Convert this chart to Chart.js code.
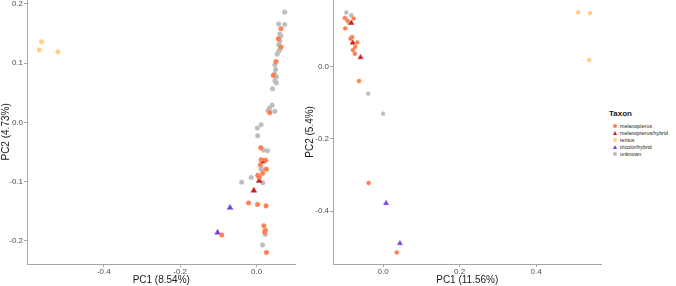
<!DOCTYPE html>
<html>
<head>
<meta charset="utf-8">
<script src="https://cdn.jsdelivr.net/npm/chart.js@4.4.0/dist/chart.umd.min.js"></script>
<style>
    body { margin: 0; background: #fff; width: 676px; height: 286px; overflow: hidden; position: relative; font-family: 'Liberation Sans', Arial, sans-serif; }
    #left { position: absolute; left: 0; top: 0; }
    #right { position: absolute; left: 300px; top: 0; }
    .legend { position: absolute; left: 609px; top: 108px; color: #1a1a1a; }
    .legend-title { font-weight: bold; font-size: 8px; line-height: 11px; margin-bottom: 4px; }
    .legend-row { display: flex; align-items: center; height: 6.9px; font-size: 5.3px; }
    .legend-mark { width: 11px; display: flex; justify-content: center; align-items: center; }
    .dot { width: 4px; height: 4px; border-radius: 50%; }
    .tri { width: 0; height: 0; border-left: 2.6px solid transparent; border-right: 2.6px solid transparent; }
</style>
</head>
<body>
<canvas id="left" width="300" height="286"></canvas>
<canvas id="right" width="306" height="286"></canvas>
<div class="legend" id="legend"></div>
<script>
// Taxa, colours and shapes
const taxa = ['melanopterus', 'melanopterus/hybrid', 'tertius', 'tricolor/hybrid', 'unknown'];
const taxaColors = ['#ff7f50', '#c8201b', '#ffcc8a', '#7a45db', '#bdbdbd'];
const taxaShapes = ['circle', 'triangle', 'circle', 'triangle', 'circle'];

// Left panel: [PC1, PC2]
const leftMelanopterus = [[0.064,0.158],[0.057,0.141],[0.064,0.127],[0.051,0.1025],[0.044,0.079],[0.0347,0.0164],
    [0.011,-0.043],[0.012,-0.063],[0.024,-0.064],[0.010,-0.072],[0.026,-0.079],[0.016,-0.086],[0.003,-0.0895],
    [0.007,-0.093],[-0.021,-0.136],[0.0026,-0.1385],[0.025,-0.141],[0.019,-0.1745],[0.023,-0.182],[0.021,-0.185],
    [-0.091,-0.190],[0.026,-0.2196]];
const leftMelanoHybrid = [[0.017,-0.066],[0.007,-0.0985],[-0.007,-0.115]];
const leftTertius = [[-0.563,0.136],[-0.569,0.122],[-0.520,0.119]];
const leftTricolorHybrid = [[-0.0694,-0.144],[-0.102,-0.186]];
const leftUnknown = [[0.0737,0.186],[0.058,0.166],[0.0737,0.165],[0.061,0.149],[0.064,0.146],[0.061,0.137],
    [0.058,0.131],[0.061,0.123],[0.058,0.120],[0.054,0.115],[0.048,0.097],[0.050,0.089],[0.047,0.082],[0.052,0.077],
    [0.048,0.070],[0.052,0.0665],[0.042,0.0567],[0.041,0.029],[0.034,0.024],[0.030,0.020],[0.048,0.0186],
    [0.012,-0.004],[0.002,-0.0095],[0.003,-0.0225],[0.019,-0.047],[0.029,-0.048],[0.012,-0.079],[0.019,-0.079],
    [0.0165,-0.102],[-0.014,-0.093],[-0.039,-0.101],[0.023,-0.189],[0.0156,-0.207]];

// Right panel: [PC1, PC2]
const rightMelanopterus = [[-0.100,0.134],[-0.077,0.132],[-0.093,0.126],[-0.099,0.105],[-0.081,0.081],[-0.085,0.0765],
    [-0.068,0.066],[-0.073,0.054],[-0.079,0.045],[-0.074,0.035],[-0.063,-0.0405],[-0.038,-0.322],[0.0355,-0.514]];
const rightMelanoHybrid = [[-0.083,0.120],[-0.0795,0.0655],[-0.059,0.025]];
const rightTertius = [[0.510,0.149],[0.541,0.147],[0.539,0.0175]];
const rightTricolorHybrid = [[0.0078,-0.378],[0.044,-0.489]];
const rightUnknown = [[-0.096,0.149],[-0.083,0.141],[-0.089,0.120],[-0.039,-0.0756],[0.0,-0.131]];

// Tick labels
const leftXTicks = [-0.4, -0.2, 0.0];
const leftYTicks = [-0.2, -0.1, 0.0, 0.1, 0.2];
const rightXTicks = [0.0, 0.2, 0.4];
const rightYTicks = [-0.4, -0.2, 0.0];

Chart.defaults.font.family = "'Liberation Sans', Arial, sans-serif";
Chart.defaults.animation = false;

const axisGrey = '#a6a6a6';

function toPoints(arr) {
    return arr.map(p => ({ x: p[0], y: p[1] }));
}

function buildDatasets(groups, dotR, triR) {
    // grey underneath, coloured taxa on top
    const drawOrder = [1, 3, 2, 4, 5];
    return groups.map((g, i) => ({
        label: taxa[i],
        data: toPoints(g),
        pointStyle: taxaShapes[i],
        pointRadius: taxaShapes[i] === 'triangle' ? triR : dotR,
        backgroundColor: taxaColors[i],
        borderColor: taxaColors[i],
        borderWidth: 0.5,
        order: drawOrder[i]
    }));
}

function axis(min, max, ticks, title, horizontal, size, titlePad) {
    return {
        type: 'linear',
        min: min,
        max: max,
        afterBuildTicks: s => { s.ticks = ticks.map(v => ({ value: v })); },
        afterFit: s => {
            if (horizontal) { s.height = size; }
            else { s.width = size; }
        },
        ticks: {
            callback: v => v.toFixed(1),
            font: { size: 8 },
            color: '#4d4d4d',
            padding: horizontal ? 0 : 1,
            maxRotation: 0,
            autoSkip: false
        },
        grid: { drawOnChartArea: false, tickLength: 3, color: axisGrey },
        border: { color: axisGrey },
        title: { display: true, text: title, font: { size: 10 }, color: '#1a1a1a', padding: titlePad }
    };
}

function makePanel(id, groups, dotR, triR, xs, ys) {
    const canvas = document.getElementById(id);
    const config = () => ({
        type: 'scatter',
        data: { datasets: buildDatasets(groups, dotR, triR) },
        options: {
            responsive: false,
            maintainAspectRatio: false,
            layout: { padding: { left: 0, right: 3, top: 0, bottom: 0 } },
            plugins: { legend: { display: false }, tooltip: { enabled: false } },
            scales: { x: xs(), y: ys() }
        }
    });
    let chart = new Chart(canvas, config());
    // the top tick label pushes the plot down; grow the canvas and shift it up so the plot starts at the page top
    const t = Math.round(chart.chartArea.top);
    if (t > 0) {
        chart.destroy();
        canvas.height = 286 + t;
        canvas.style.top = (-t) + 'px';
        chart = new Chart(canvas, config());
    }
    return chart;
}

makePanel('left',
    [leftMelanopterus, leftMelanoHybrid, leftTertius, leftTricolorHybrid, leftUnknown], 2.3, 3.3,
    () => axis(-0.601, 0.102, leftXTicks, 'PC1 (8.54%)', true, 22, { bottom: 0 }),
    () => axis(-0.239, 0.2068, leftYTicks, 'PC2 (4.73%)', false, 27, { top: 0 }));

makePanel('right',
    [rightMelanopterus, rightMelanoHybrid, rightTertius, rightTricolorHybrid, rightUnknown], 2.0, 2.9,
    () => axis(-0.131, 0.571, rightXTicks, 'PC1 (11.56%)', true, 22, { bottom: 0 }),
    () => axis(-0.546, 0.184, rightYTicks, 'PC2 (5.4%)', false, 33, { top: 4 }));

// Legend
const legend = document.getElementById('legend');
legend.innerHTML = '<div class="legend-title">Taxon</div>';
taxa.forEach((name, i) => {
    const row = document.createElement('div');
    row.className = 'legend-row';
    const mark = taxaShapes[i] === 'triangle'
        ? `<span class="tri" style="border-bottom:4.6px solid ${taxaColors[i]}"></span>`
        : `<span class="dot" style="background:${taxaColors[i]}"></span>`;
    row.innerHTML = `<span class="legend-mark">${mark}</span><span>${name}</span>`;
    legend.appendChild(row);
});
</script>
</body>
</html>
